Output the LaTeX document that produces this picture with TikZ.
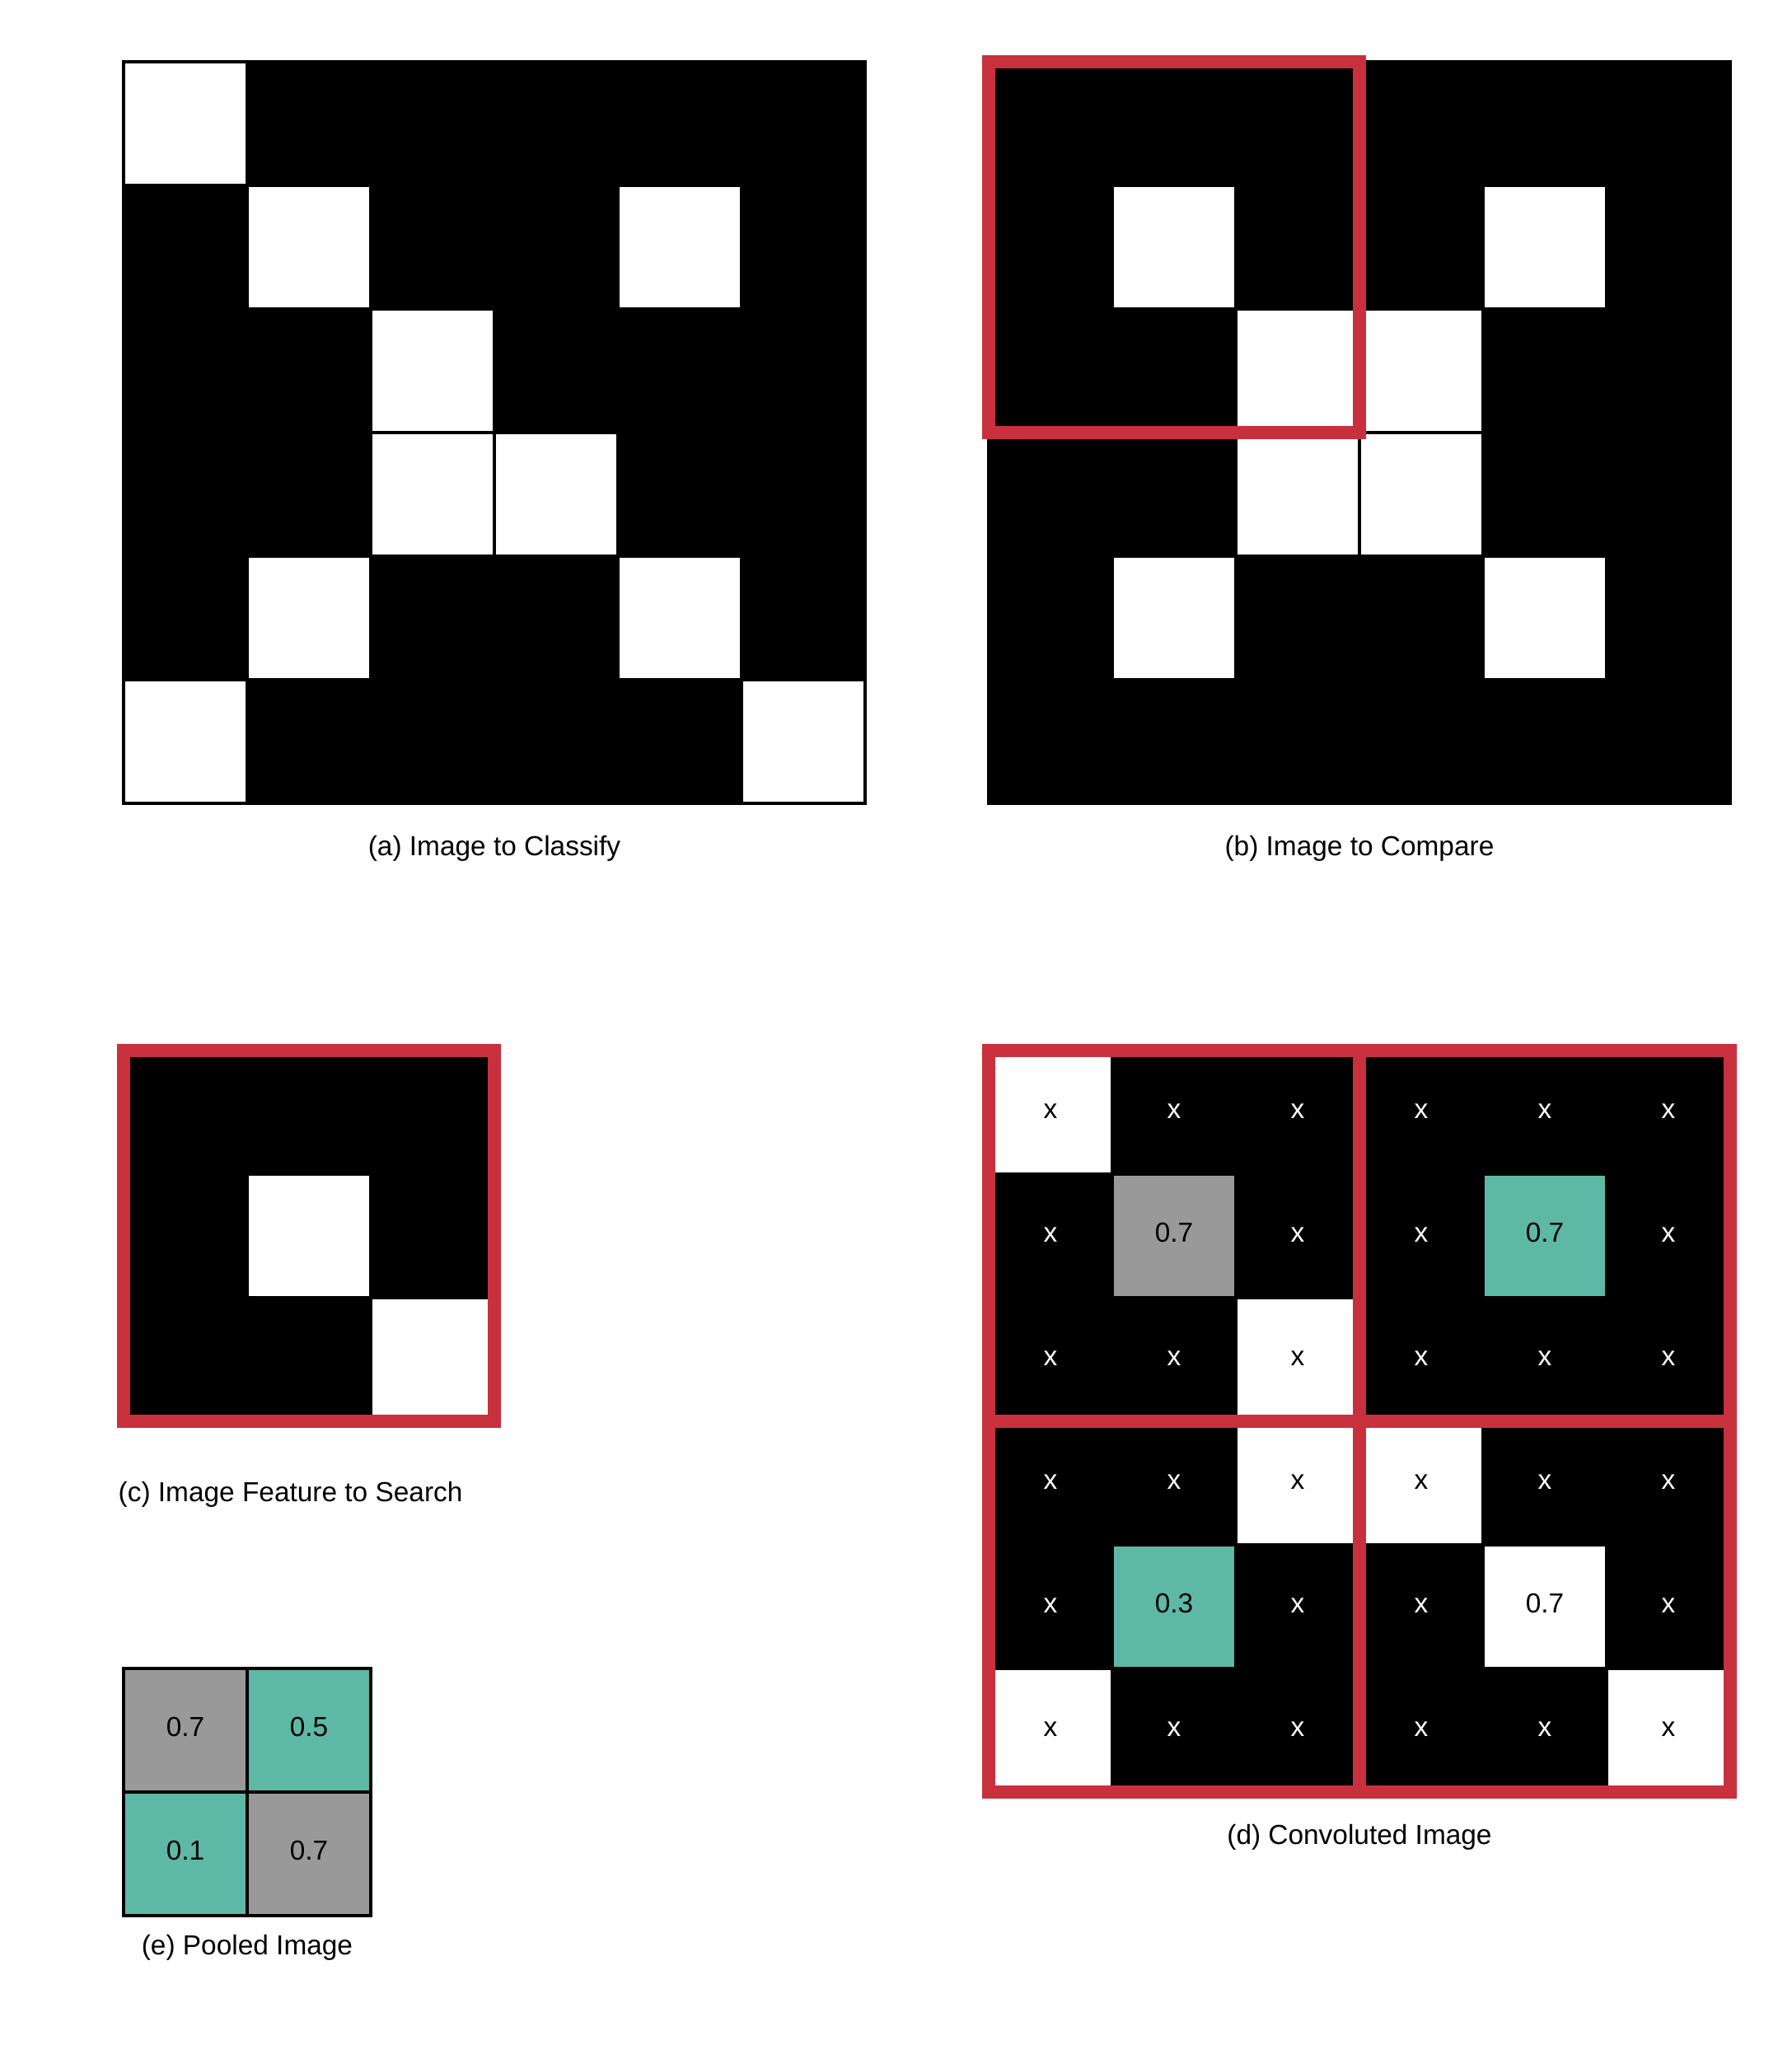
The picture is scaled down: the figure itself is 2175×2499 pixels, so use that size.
\documentclass[tikz,border=0pt]{standalone}
\usepackage{fontspec}
\setmainfont{Liberation Sans}
\definecolor{frameRed}{RGB}{200,49,60}
\definecolor{cellGray}{RGB}{153,153,153}
\definecolor{cellTeal}{RGB}{93,185,166}
\colorlet{fW}{white}\colorlet{fB}{black}\colorlet{fG}{cellGray}\colorlet{fT}{cellTeal}
\colorlet{tW}{black}\colorlet{tB}{white}\colorlet{tG}{black}\colorlet{tT}{black}
\begin{document}
\begin{tikzpicture}[x=0.01cm,y=-0.01cm,
  cell/.style={rectangle, draw=black, line width=0.04cm, minimum width=1.5cm,
    minimum height=1.5cm, inner sep=0pt, outer sep=0pt,
    text height=6.8pt, text depth=2.3pt,
    font=\fontsize{9.5pt}{11pt}\selectfont},
  redframe/.style={draw=frameRed, line width=0.16cm},
  caption/.style={inner sep=0pt, font=\fontsize{9.5pt}{11pt}\selectfont}]

\fill[white] (0,0) rectangle (2175,2499);
\useasboundingbox (0,0) rectangle (2175,2499);

% (a) Image to Classify
\foreach \row [count=\r from 0] in {{W,B,B,B,B,B},{B,W,B,B,W,B},{B,B,W,B,B,B},{B,B,W,W,B,B},{B,W,B,B,W,B},{W,B,B,B,B,W}}{
  \foreach \v [count=\c from 0] in \row {
    \node[cell, fill=f\v] (a-\r-\c) at ({225+150*\c},{150+150*\r}) {};
  }
}

% (b) Image to Compare
\foreach \row [count=\r from 0] in {{B,B,B,B,B,B},{B,W,B,B,W,B},{B,B,W,W,B,B},{B,B,W,W,B,B},{B,W,B,B,W,B},{B,B,B,B,B,B}}{
  \foreach \v [count=\c from 0] in \row {
    \node[cell, fill=f\v] (b-\r-\c) at ({1275+150*\c},{150+150*\r}) {};
  }
}
\draw[redframe] (b-0-0.north west) rectangle (b-2-2.south east);

% (c) Image Feature to Search
\foreach \row [count=\r from 0] in {{B,B,B},{B,W,B},{B,B,W}}{
  \foreach \v [count=\c from 0] in \row {
    \node[cell, fill=f\v] (c-\r-\c) at ({225+150*\c},{1350+150*\r}) {};
  }
}
\draw[redframe] (c-0-0.north west) rectangle (c-2-2.south east);

% (d) Convoluted Image
\foreach \row [count=\r from 0] in {
  {W/x,B/x,B/x,B/x,B/x,B/x},
  {B/x,G/0.7,B/x,B/x,T/0.7,B/x},
  {B/x,B/x,W/x,B/x,B/x,B/x},
  {B/x,B/x,W/x,W/x,B/x,B/x},
  {B/x,T/0.3,B/x,B/x,W/0.7,B/x},
  {W/x,B/x,B/x,B/x,B/x,W/x}}{
  \foreach \v/\lbl [count=\c from 0] in \row {
    \node[cell, fill=f\v, text=t\v] (d-\r-\c) at ({1275+150*\c},{1350+150*\r}) {\lbl};
  }
}
\draw[redframe] (d-0-0.north west) rectangle (d-5-5.south east);
\draw[redframe] (d-0-2.north east) -- (d-5-2.south east);
\draw[redframe] (d-2-0.south west) -- (d-2-5.south east);

% (e) Pooled Image
\foreach \row [count=\r from 0] in {{G/0.7,T/0.5},{T/0.1,G/0.7}}{
  \foreach \v/\lbl [count=\c from 0] in \row {
    \node[cell, fill=f\v, text=t\v] (e-\r-\c) at ({225+150*\c},{2100+150*\r}) {\lbl};
  }
}

% captions
\node[caption, anchor=base] (capA) at (600,1038) {(a) Image to Classify};
\node[caption, anchor=base] (capB) at (1650,1038) {(b) Image to Compare};
\node[caption, anchor=base west] (capC) at (143,1822) {(c) Image Feature to Search};
\node[caption, anchor=base] (capD) at (1650,2238) {(d) Convoluted Image};
\node[caption, anchor=base] (capE) at (300,2372) {(e) Pooled Image};
\end{tikzpicture}
\end{document}
